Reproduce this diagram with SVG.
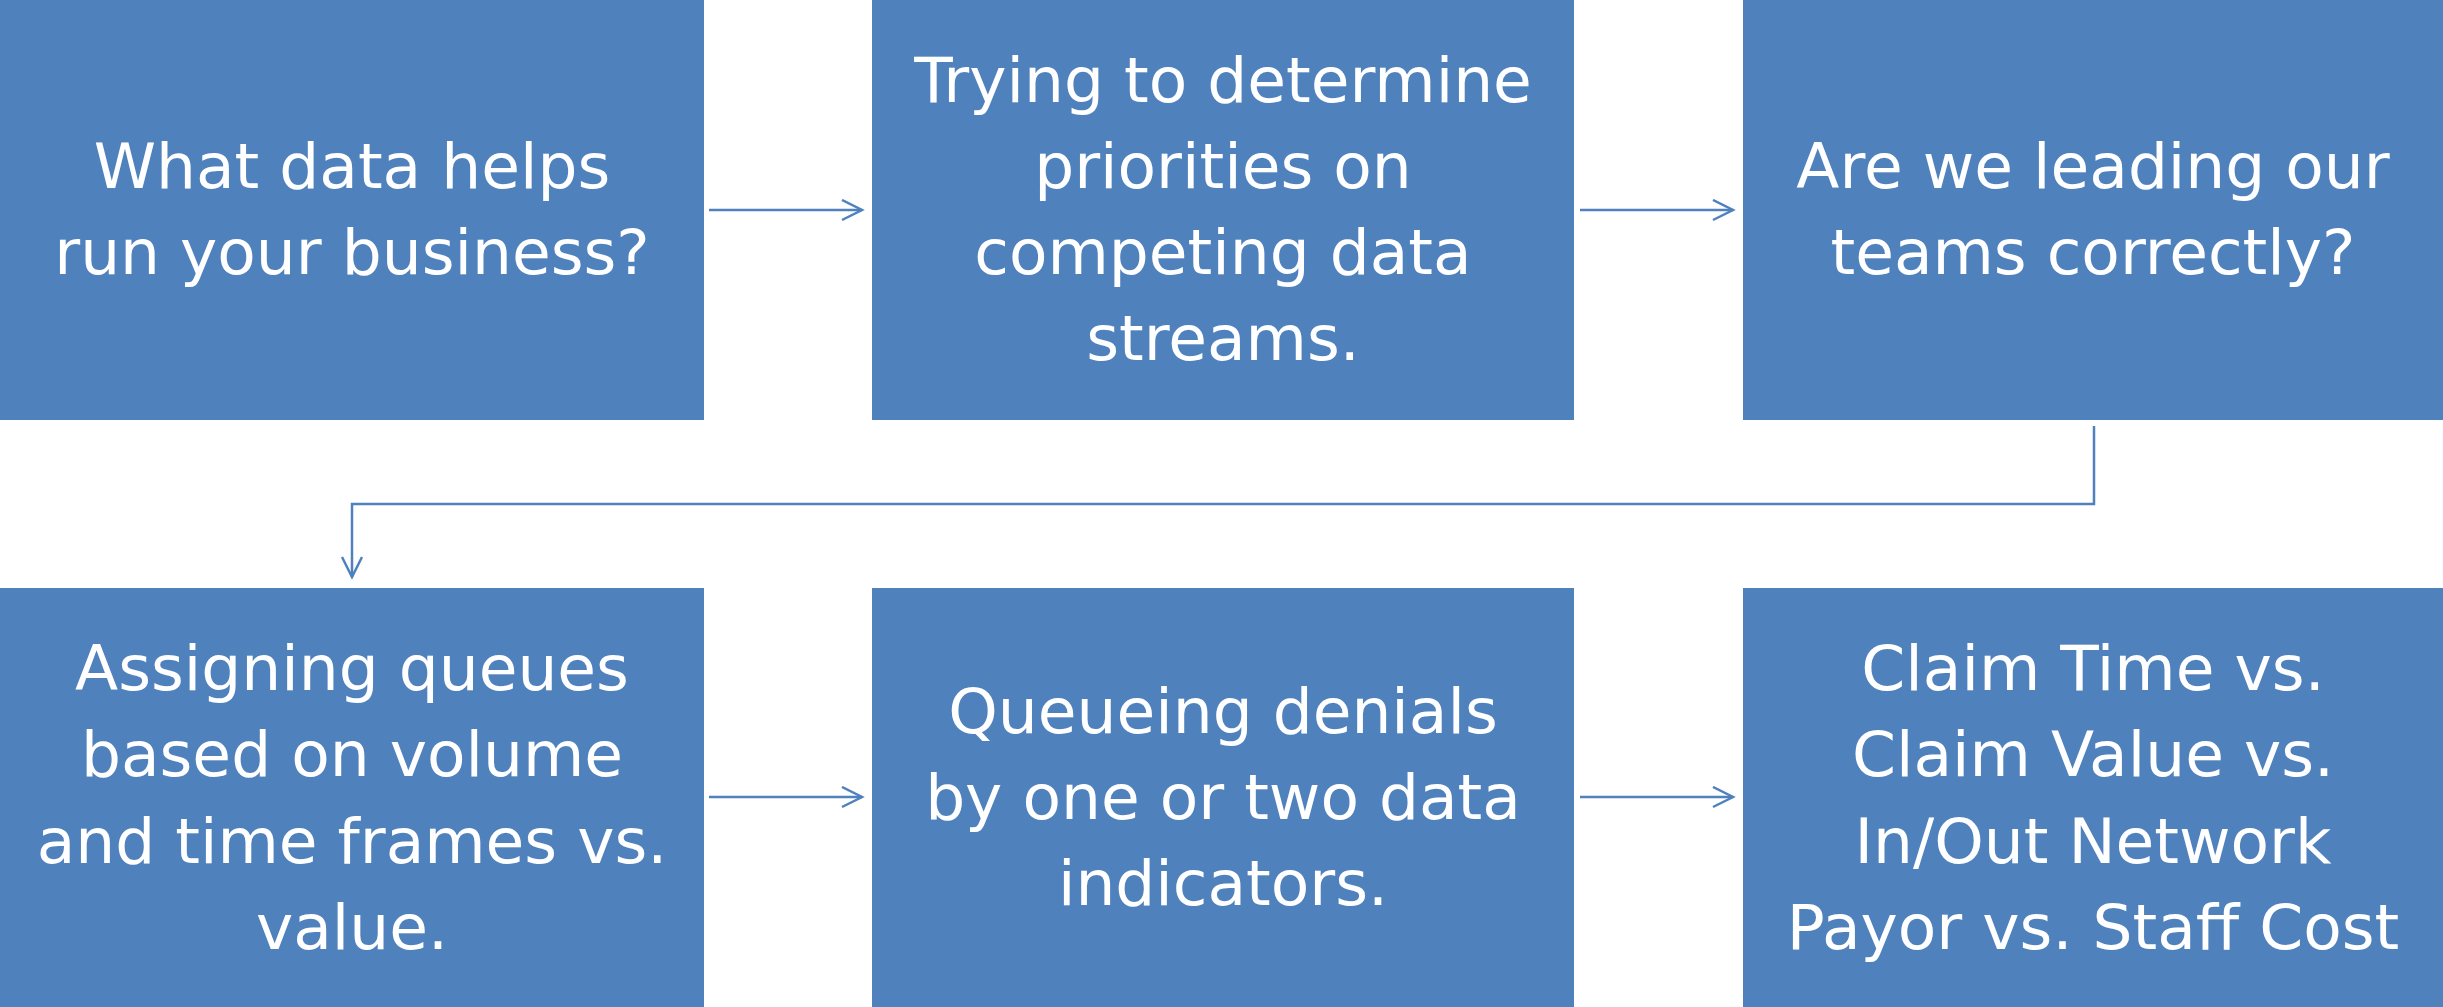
<svg xmlns="http://www.w3.org/2000/svg" width="2443" height="1007" viewBox="0 0 2443 1007">
  <style>
    .box { fill: #4F81BD; }
    .label { fill: #FFFFFF; font-family: "DejaVu Sans", "Open Sans", "Liberation Sans", sans-serif; font-size: 63px; text-anchor: middle; }
    .link { fill: none; stroke: #4F81BD; stroke-width: 2.5; }
  </style>
  <defs>
    <marker id="chevron" markerUnits="userSpaceOnUse" markerWidth="30" markerHeight="30" refX="21" refY="11" orient="auto">
      <path d="M 1 1 L 21 11 L 1 21" fill="none" stroke="#4F81BD" stroke-width="2.5"/>
    </marker>
  </defs>

  <rect width="2443" height="1007" fill="#FFFFFF"/>

  <!-- top row -->
  <g id="node-data">
    <rect class="box" x="0" y="0" width="704" height="420"/>
    <text class="label" x="352" y="188">What data helps</text>
    <text class="label" x="352" y="274">run your business?</text>
  </g>
  <g id="node-priorities">
    <rect class="box" x="872" y="0" width="702" height="420"/>
    <text class="label" x="1223" y="102">Trying to determine</text>
    <text class="label" x="1223" y="188">priorities on</text>
    <text class="label" x="1223" y="274">competing data</text>
    <text class="label" x="1223" y="360">streams.</text>
  </g>
  <g id="node-leading">
    <rect class="box" x="1743" y="0" width="700" height="420"/>
    <text class="label" x="2093" y="188">Are we leading our</text>
    <text class="label" x="2093" y="274">teams correctly?</text>
  </g>

  <!-- bottom row -->
  <g id="node-queues">
    <rect class="box" x="0" y="588" width="704" height="419"/>
    <text class="label" x="352" y="690">Assigning queues</text>
    <text class="label" x="352" y="776">based on volume</text>
    <text class="label" x="352" y="863">and time frames vs.</text>
    <text class="label" x="352" y="949">value.</text>
  </g>
  <g id="node-denials">
    <rect class="box" x="872" y="588" width="702" height="419"/>
    <text class="label" x="1223" y="733">Queueing denials</text>
    <text class="label" x="1223" y="819">by one or two data</text>
    <text class="label" x="1223" y="905">indicators.</text>
  </g>
  <g id="node-claims">
    <rect class="box" x="1743" y="588" width="700" height="419"/>
    <text class="label" x="2093" y="690">Claim Time vs.</text>
    <text class="label" x="2093" y="776">Claim Value vs.</text>
    <text class="label" x="2093" y="863">In/Out Network</text>
    <text class="label" x="2093" y="949">Payor vs. Staff Cost</text>
  </g>

  <!-- connectors -->
  <g id="connectors">
    <path class="link" d="M 709 210 L 862 210" marker-end="url(#chevron)"/>
    <path class="link" d="M 1580 210 L 1733 210" marker-end="url(#chevron)"/>
    <path class="link" d="M 2094 426 L 2094 504 L 352 504 L 352 577" marker-end="url(#chevron)"/>
    <path class="link" d="M 709 797 L 862 797" marker-end="url(#chevron)"/>
    <path class="link" d="M 1580 797 L 1733 797" marker-end="url(#chevron)"/>
  </g>
</svg>
